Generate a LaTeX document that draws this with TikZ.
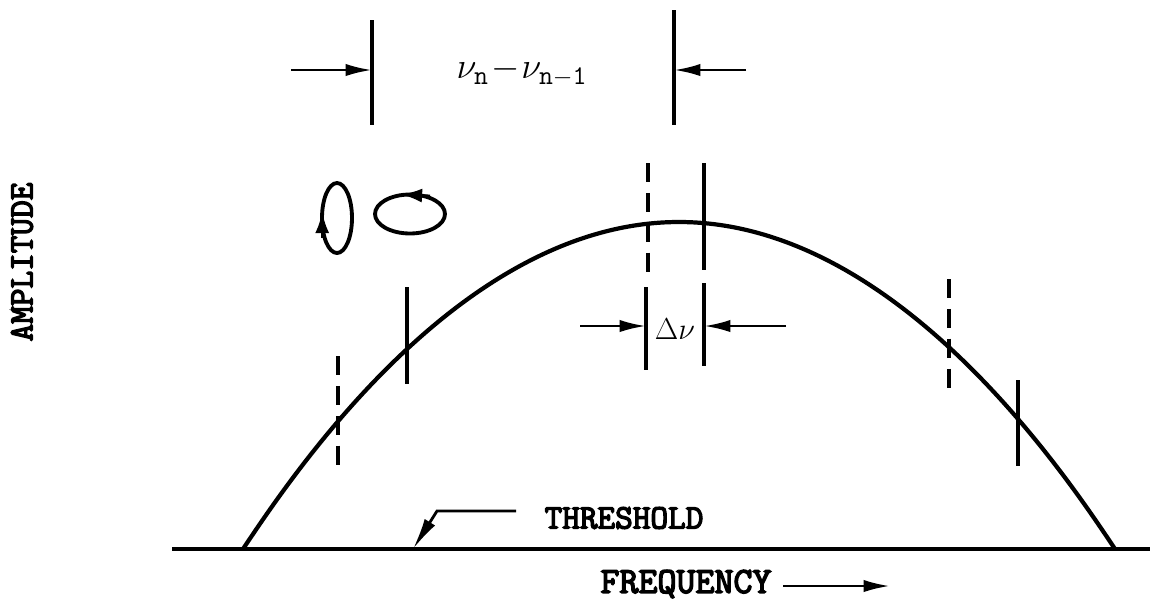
\documentclass[tikz,border=0pt]{standalone}
\usepackage{fontspec}
\newfontfamily\maqfont{Latin Modern Mono}[FakeBold=4]
\usetikzlibrary{arrows.meta}

\begin{document}
\begin{tikzpicture}[x=0.02cm,y=-0.02cm,
    linea/.style={line width=1.8pt},
    marca/.style={line width=2.2pt},
    marcad/.style={line width=2.2pt, dash pattern=on 11pt off 6pt},
    flecha/.style={line width=1.6pt, -{Latex[length=15pt,width=7pt]}},
    rotulo/.style={font=\maqfont\fontsize{19.5}{22}\selectfont, inner sep=0pt}]
    \useasboundingbox (0,0) rectangle (1153,603);

    % Umbral y curva de ganancia
    \coordinate (u0) at (172,549);
    \coordinate (u1) at (1150,549);
    \draw[linea] (u0) -- (u1);
    \draw[line width=2.4pt] (243,549) parabola bend (679,222) (1115,549);

    % Modos (marcas verticales)
    \draw[marcad] (338,356) -- (338,465);
    \draw[marca] (407,287) -- (407,384);
    \draw[marcad] (648,163) -- (648,272);
    \draw[marca] (704,163) -- (704,270);
    \draw[marcad] (949,279) -- (949,388);
    \draw[marca] (1018,380) -- (1018,466);

    % Separacion entre modos
    \coordinate (a1) at (372,20);
    \coordinate (a2) at (372,125);
    \coordinate (b1) at (674,10);
    \coordinate (b2) at (674,125);
    \draw[marca] (a1) -- (a2);
    \draw[marca] (b1) -- (b2);
    \coordinate (fa) at (291,70);
    \coordinate (ta) at (372,70);
    \coordinate (fb) at (746,70);
    \coordinate (tb) at (674,70);
    \draw[flecha] (fa) -- (ta);
    \draw[flecha] (fb) -- (tb);
    \node (sep) at (522,72) {\fontsize{22}{24}\selectfont$\nu_{\mathtt{n}}\!-\!\nu_{\mathtt{n-1}}$};

    % Delta nu
    \coordinate (c1) at (646,287);
    \coordinate (c2) at (646,370);
    \coordinate (d1) at (704,283);
    \coordinate (d2) at (704,366);
    \draw[marca] (c1) -- (c2);
    \draw[marca] (d1) -- (d2);
    \coordinate (fc) at (580,326);
    \coordinate (tc) at (646,326);
    \coordinate (fd) at (786,326);
    \coordinate (td) at (704,326);
    \draw[flecha] (fc) -- (tc);
    \draw[flecha] (fd) -- (td);
    \node (dnu) at (675,329) {\fontsize{16}{18}\selectfont$\Delta\nu$};

    % Polarizaciones
    \draw[line width=2.2pt] (337,218) ellipse (0.3cm and 0.7cm);
    \draw[line width=1.6pt, -{Latex[length=12pt,width=8pt]}] (322.2,238) -- (322.2,212);
    \draw[line width=2.2pt] (410,214) ellipse (0.7cm and 0.39cm);
    \draw[line width=1.6pt, -{Latex[length=12pt,width=8pt]}] (430,196) -- (401,194.4);

    % Textos
    \node[rotulo] (thr) at (624,518) {THRESHOLD};
    \coordinate (t1) at (516,511);
    \coordinate (t2) at (437,511);
    \coordinate (t3) at (413,549);
    \draw[line width=1.6pt, -{Latex[length=18pt,width=7pt]}] (t1) -- (t2) -- (t3);

    \node[rotulo, font=\maqfont\fontsize{21}{23}\selectfont] (frq) at (686,584) {FREQUENCY};
    \coordinate (f1) at (783,586);
    \coordinate (f2) at (890,586);
    \draw[flecha] (f1) -- (f2);

    \node[rotulo, rotate=90] (amp) at (22,262) {AMPLITUDE};
\end{tikzpicture}
\end{document}
